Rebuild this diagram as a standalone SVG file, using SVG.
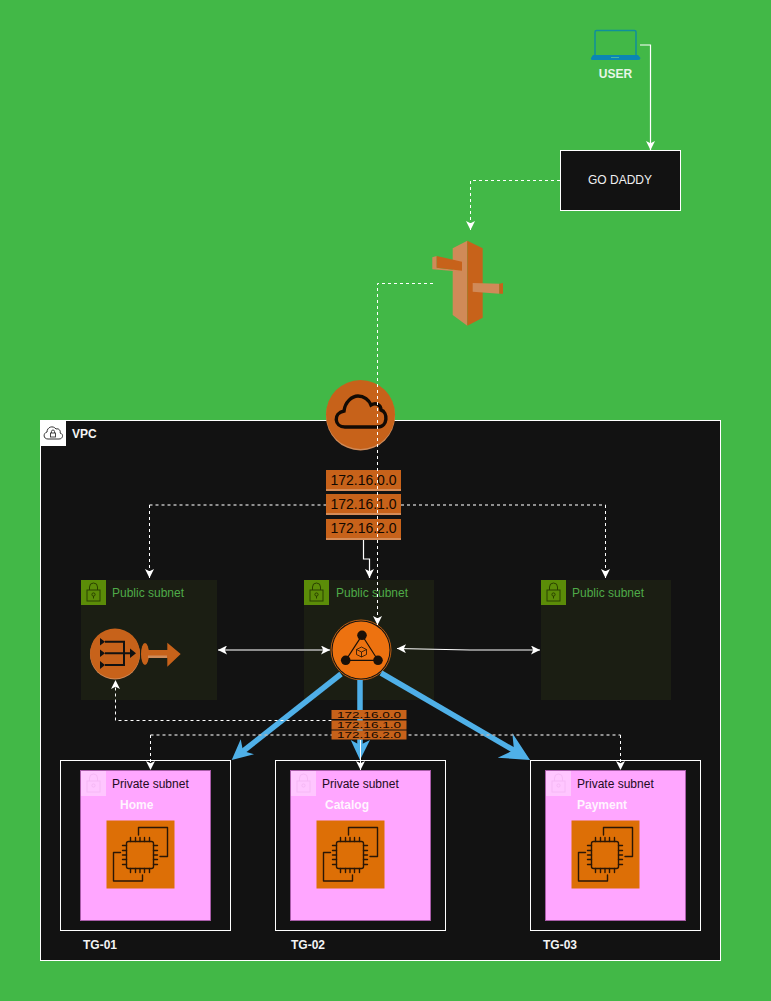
<svg xmlns="http://www.w3.org/2000/svg" width="771" height="1001" viewBox="0 0 771 1001">
<style>
text{font-family:"Liberation Sans",Arial,sans-serif;font-size:12px}
.ln{fill:none;stroke:#fff;stroke-width:1}
.dash{stroke-dasharray:3 3}
.gray{stroke:#b8b8b8;stroke-width:1.5}
.blue{fill:none;stroke:#4fb0e8;stroke-width:5.5}
.bh{fill:#4fb0e8}
.ipb{fill:#c7621a}
.ipl{fill:#d58c58}
.ipt{fill:#120800;font-size:14px;text-anchor:middle}
.ips{fill:#120800;font-size:9.5px;text-anchor:middle}
.pub{fill:#1b1e13}
.pubt{fill:#4faa48}
.tg{fill:#121212;stroke:#fff;stroke-width:1}
.priv{fill:#ffa6ff;stroke:#a85ca8;stroke-width:1}
.privt{fill:#230a23}
.wb{fill:#f4f4f4;font-weight:bold}
.lab{fill:#fff4ff;font-weight:bold}
.ic{fill:none;stroke:#2a1606;stroke-width:1.4;stroke-linejoin:round;stroke-linecap:round}
</style>
<defs>
<marker id="a" viewBox="0 0 8 8" refX="8" refY="4" markerWidth="9" markerHeight="9" markerUnits="userSpaceOnUse" orient="auto-start-reverse"><path d="M8,4 L0,0 L2,4 L0,8 Z" fill="#fff"/></marker>
<g id="lockg"><rect width="25" height="25" fill="#5b8c08"/><g fill="none" stroke="#2a4000" stroke-width="1"><rect x="6" y="10" width="13" height="11"/><path d="M8.5,10 V7 a4,4 0 0 1 8,0 V10"/><circle cx="12.5" cy="14.5" r="1.6"/><path d="M12.5,16 V18.5"/></g></g>
<g id="lockp"><rect width="25" height="25" fill="#ffc6ff"/><g fill="none" stroke="#f6b8f6" stroke-width="1"><rect x="6" y="10" width="13" height="11"/><path d="M8.5,10 V7 a4,4 0 0 1 8,0 V10"/><circle cx="12.5" cy="14.5" r="1.6"/></g></g>
<g id="ec2"><rect width="68" height="68" fill="#dd6f06"/>
<g class="ic"><rect x="20" y="21" width="27" height="27" rx="2"/><path d="M32,14.5 V7 H61 V36 H53.5 M14,32 H7 V60.5 H36 V54.5"/><path d="M24,17 V21 M29,17 V21 M33.5,17 V21 M38,17 V21 M43,17 V21 M24,48 V52 M29,48 V52 M33.5,48 V52 M38,48 V52 M43,48 V52 M16,25 H20 M16,30 H20 M16,34.5 H20 M16,39 H20 M16,44 H20 M47,25 H51 M47,30 H51 M47,34.5 H51 M47,39 H51 M47,44 H51"/></g></g>
</defs>
<rect id="background" width="771" height="1001" fill="#42b847"/>

<g id="vpc"><rect x="40.5" y="420.5" width="680" height="540" fill="#121212" stroke="#fff"/><rect x="41" y="421" width="25" height="25" fill="#fff"/><path d="M48,439 C43,439 43,433 47,432 C47,427 53,425 56,429 C59,428 61,431 60,433 C64,434 63,439 59,439 Z" fill="none" stroke="#333" stroke-width="1"/><rect x="50.5" y="433" width="5" height="4" fill="none" stroke="#333" stroke-width="0.9"/><path d="M51.5,433 V431.5 a1.5,1.5 0 0 1 3,0 V433" fill="none" stroke="#333" stroke-width="0.9"/><text x="72" y="438" class="wb">VPC</text></g>

<g id="public-subnet-1"><rect x="81" y="580" width="136" height="120" class="pub"/><use href="#lockg" x="81" y="580"/><text x="112" y="597" class="pubt">Public subnet</text></g>
<g id="public-subnet-2"><rect x="304" y="580" width="130" height="120" class="pub"/><use href="#lockg" x="304" y="580"/><text x="336" y="597" class="pubt">Public subnet</text></g>
<g id="public-subnet-3"><rect x="541" y="580" width="130" height="120" class="pub"/><use href="#lockg" x="541" y="580"/><text x="572" y="597" class="pubt">Public subnet</text></g>

<g id="tg-01"><rect x="60.5" y="760.5" width="170" height="170" class="tg"/><rect x="80.5" y="770.5" width="130" height="150" class="priv"/><use href="#lockp" x="81" y="771"/><text x="112" y="788" class="privt">Private subnet</text><text x="120" y="809" class="lab">Home</text><use href="#ec2" x="106.5" y="820.5"/><text x="83" y="949" class="wb">TG-01</text></g>
<g id="tg-02"><rect x="275.5" y="760.5" width="170" height="170" class="tg"/><rect x="290.5" y="770.5" width="140" height="150" class="priv"/><use href="#lockp" x="291" y="771"/><text x="322" y="788" class="privt">Private subnet</text><text x="325" y="809" class="lab">Catalog</text><use href="#ec2" x="316.5" y="820.5"/><text x="291" y="949" class="wb">TG-02</text></g>
<g id="tg-03"><rect x="530.5" y="760.5" width="170" height="170" class="tg"/><rect x="545.5" y="770.5" width="140" height="150" class="priv"/><use href="#lockp" x="546" y="771"/><text x="577" y="788" class="privt">Private subnet</text><text x="577" y="809" class="lab">Payment</text><use href="#ec2" x="571.5" y="820.5"/><text x="543" y="949" class="wb">TG-03</text></g>

<g id="user"><path d="M595,55 V32 Q595,30.5 596.5,30.5 H634.5 Q636,30.5 636,32 V55" fill="none" stroke="#0f8f9c" stroke-width="1.5"/><path d="M593,55 H638 L640.5,58 Q640.5,60 638,60 H593 Q590.5,60 591,58 Z" fill="#0a86b4"/><rect x="611" y="57" width="8" height="1" fill="#45b8a0"/><text x="615.5" y="78" text-anchor="middle" style="fill:#e8f6e8;font-weight:bold">USER</text></g>

<g id="go-daddy"><rect x="560.5" y="150.5" width="120" height="60" fill="#121212" stroke="#fff"/><text x="620" y="184" text-anchor="middle" style="fill:#f0f0f0">GO DADDY</text></g>

<g id="route53"><path d="M467.3,240.7 L452.7,248.3 V315 L467.3,325.7 Z" fill="#d08a58"/><path d="M467.3,240.7 L482.7,248.3 V317.7 L467.3,325.7 Z" fill="#c7621a"/>
<path d="M432.3,257.3 L436.7,256 V267.7 L462,270.7 V271.7 L432.3,269.3 Z" fill="#d08a58"/><path d="M436.7,256 L462,261.7 V270.7 L436.7,267.7 Z" fill="#c7621a"/>
<path d="M472.7,283 L499.3,283.7 V293.7 L472.7,291.7 Z" fill="#d08a58"/><path d="M499.3,283.7 L503,283 V293.7 H499.3 Z" fill="#c7621a"/></g>

<g id="internet-gateway"><circle cx="360.5" cy="416" r="34.5" fill="#d08a58"/><circle cx="360.5" cy="414.5" r="34.5" fill="#c7621a"/><path d="M345,427 C334,427 333,413 344,411 C345,402 352,396 358,396 C364,396 369,400 371,405 C376,402 381,405 381,410 C388,412 388,427 378,427 Z" fill="none" stroke="#120a04" stroke-width="3.4"/></g>

<g id="route-table-public"><rect x="326" y="470" width="75" height="21" class="ipb"/><rect x="326" y="489" width="75" height="2" class="ipl"/><rect x="326" y="494" width="75" height="21" class="ipb"/><rect x="326" y="513" width="75" height="2" class="ipl"/><rect x="326" y="519" width="75" height="21" class="ipb"/><rect x="326" y="538" width="75" height="2" class="ipl"/><text x="363.5" y="485" class="ipt">172.16.0.0</text><text x="363.5" y="509" class="ipt">172.16.1.0</text><text x="363.5" y="533" class="ipt">172.16.2.0</text></g>

<g id="nat-gateway"><circle cx="115" cy="654.5" r="25" fill="#d08a58"/><circle cx="115" cy="653.5" r="25" fill="#c7621a"/><path d="M105,641.7 H124 V665 H105 M105,653.3 H131" fill="none" stroke="#111" stroke-width="2"/><path d="M100,638 L105,641.7 L100,645.5 Z M100,649.5 L105,653.3 L100,657 Z M100,661 L105,665 L100,669 Z M130,648.5 L136,653.3 L130,658 Z" fill="#111"/><ellipse cx="145" cy="654" rx="4" ry="11" fill="#c7621a"/><path d="M148,650 H167.3 V642.7 L180.7,654 L167.3,666.7 V658 H148 Z" fill="#c7621a"/><path d="M148,655.5 H167 V658 H148 Z" fill="#d08a58"/></g>

<g id="load-balancer"><circle cx="361" cy="650" r="30" fill="#121212" stroke="#b85d14" stroke-width="1"/><circle cx="361" cy="650" r="28.5" fill="#ed7210"/><path d="M362,635.3 L345.7,660.3 H378 Z" fill="none" stroke="#1a1008" stroke-width="1.2"/><circle cx="362" cy="635.3" r="4.8" fill="#1a1008"/><circle cx="345.7" cy="660.3" r="4.8" fill="#1a1008"/><circle cx="378" cy="660.3" r="4.8" fill="#1a1008"/><path d="M361.5,647 L356.5,649.5 V654.5 L361.5,657 L366.5,654.5 V649.5 Z M356.5,649.5 L361.5,652 L366.5,649.5 M361.5,652 V657" fill="none" stroke="#1a1008" stroke-width="0.8"/></g>

<g id="connectors">
<path class="blue" d="M341,674 L242,752"/><path class="bh" d="M231.7,760 L240.7,739.3 L243,751 L254,754.3 Z"/>
<path class="blue" d="M360,680 V750"/><path class="bh" d="M360,760 L350.7,740 L360,745 L370,740 Z"/>
<path class="blue" d="M381,673 L515,751"/><path class="bh" d="M530,760 L512.3,733 L514,750 L497.7,757.7 Z"/>
<path class="ln" style="stroke-width:1.2" marker-end="url(#a)" d="M640,45 H650.5 V150"/>
<path class="ln dash" marker-end="url(#a)" d="M560,180.5 H470.5 V230"/>
<path class="ln dash" marker-end="url(#a)" d="M433,283.5 H377.5 V625"/>
<path class="ln dash gray" d="M149.5,505 H326 M401,505 H605.5"/>
<path class="ln dash" marker-end="url(#a)" d="M149.5,505 V578"/>
<path class="ln dash" marker-end="url(#a)" d="M605.5,505 V578"/>
<path class="ln" style="stroke-width:1.2" marker-end="url(#a)" d="M363.5,540 V559 H369.5 V578"/>
<path class="ln gray" marker-start="url(#a)" marker-end="url(#a)" d="M218,650 H330"/>
<path class="ln" style="stroke-width:1.2" marker-start="url(#a)" marker-end="url(#a)" d="M397,648.5 L470,650 H540"/>
<path class="ln dash" marker-end="url(#a)" d="M331.5,720.5 H115.5 V680"/>
<path class="ln dash gray" d="M150.5,735 H620.5"/>
<path class="ln dash" marker-end="url(#a)" d="M150.5,735 V770"/>
<path class="ln dash" marker-end="url(#a)" d="M620.5,735 V770"/>
<path class="ln" marker-end="url(#a)" d="M360.5,740 V770"/>
</g>

<g id="route-table-private"><rect x="331.5" y="710" width="75" height="9" class="ipb"/><rect x="331.5" y="720.5" width="75" height="9" class="ipb"/><rect x="331.5" y="730.5" width="75" height="9" class="ipb"/><text x="369" y="717.5" class="ips" textLength="64" lengthAdjust="spacingAndGlyphs">172.16.0.0</text><text x="369" y="728" class="ips" textLength="64" lengthAdjust="spacingAndGlyphs">172.16.1.0</text><text x="369" y="738" class="ips" textLength="64" lengthAdjust="spacingAndGlyphs">172.16.2.0</text></g>
</svg>
